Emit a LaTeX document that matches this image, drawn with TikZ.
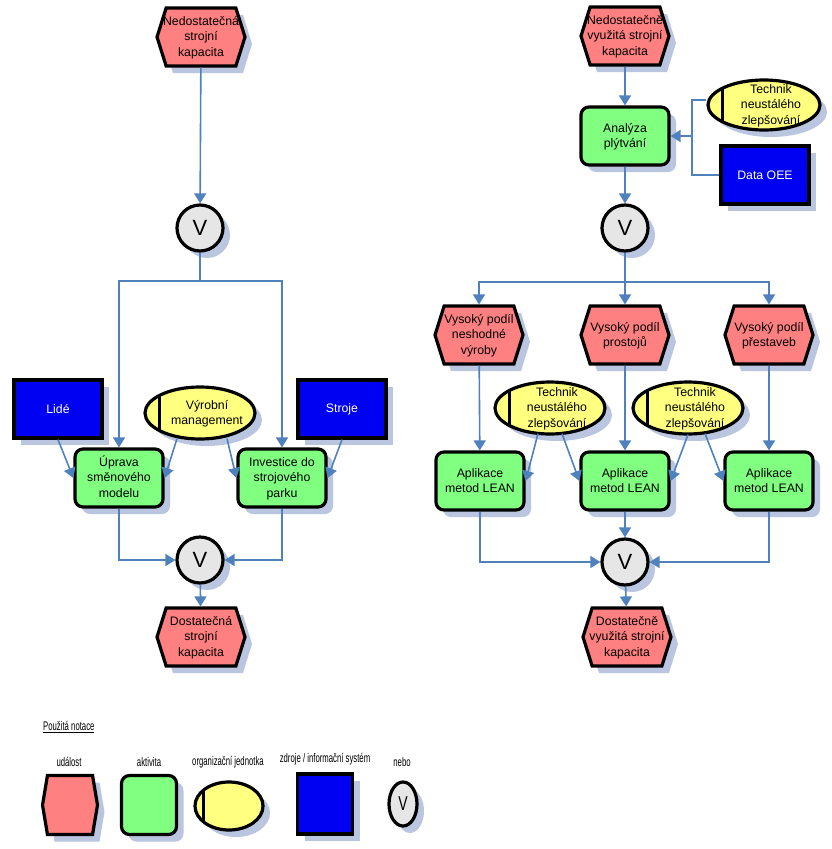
\documentclass[tikz,border=0pt]{standalone}
\usepackage{fontspec}
\usepackage{graphicx}
\setmainfont{Liberation Sans}
\usetikzlibrary{shapes.symbols,shapes.geometric,arrows.meta,calc}
\definecolor{evfill}{HTML}{FF8080}
\definecolor{actfill}{HTML}{80FF80}
\definecolor{orgfill}{HTML}{FFFF80}
\definecolor{resfill}{HTML}{0000F2}
\definecolor{orfill}{HTML}{E6E6E6}
\definecolor{conn}{HTML}{4F81BD}
\definecolor{shadowc}{HTML}{BAC6E0}
\newcommand\ztxt[1]{\makebox[0pt]{\raisebox{-3.8pt}[0pt][0pt]{\begin{tabular}{@{}c@{}}#1\end{tabular}}}}
\tikzset{
 base/.style={draw=black, line width=3.2pt, inner sep=0pt, font=\fontsize{12.3}{15.5}\selectfont},
 event/.style={base, signal, signal to=east and west, signal pointer angle=145, fill=evfill, minimum width=88pt, minimum height=58pt},
 activity/.style={base, rectangle, rounded corners=8pt, fill=actfill, minimum width=88pt, minimum height=58pt},
 org/.style={base, ellipse, fill=orgfill, minimum width=110pt, minimum height=52pt,
   path picture={\draw[line width=3pt] ([xshift=14pt]path picture bounding box.north west) -- ([xshift=14pt]path picture bounding box.south west);}},
 res/.style={base, rectangle, fill=resfill, text=white, minimum width=88pt, minimum height=58pt},
 ornode/.style={base, circle, fill=orfill, minimum size=46pt, font=\fontsize{22}{22}\selectfont},
 arr/.style={draw=conn, line width=1.6pt, -{Triangle[length=10pt,width=12pt]}},
 ln/.style={draw=conn, line width=1.6pt},
 legtext/.style={font=\fontsize{12.5}{14}\selectfont, inner sep=0pt},
 shd/.style={fill=shadowc},
}
\begin{document}
\begin{tikzpicture}[x=1pt,y=-1pt]
\fill[white] (0,0) rectangle (832,849);
\useasboundingbox (0,0) rectangle (832,849);

% ---------- shadows (offset 7 right, 7 down) ----------
\foreach \x/\y/\w/\h in {119/478/88/58, 282/478/88/58, 625/136/88/58, 480/481/88/58, 625/481/88/58, 769/481/88/58, 149/805/55/59}
  \fill[shd, rounded corners=8pt] (\x+7-\w/2,\y+7-\h/2) rectangle (\x+7+\w/2,\y+7+\h/2);
\foreach \x/\y/\w/\h in {58/409/88/58, 342/409/88/58, 765/175/88/58, 325/804/55/60}
  \fill[shd] (\x+7-\w/2,\y+7-\h/2) rectangle (\x+7+\w/2,\y+7+\h/2);
\foreach \x/\y/\a/\b in {200/413/55/26, 764/105/56/25, 550/408/55/26, 688/408/55/26, 229/806/34/24, 200/228/23/23, 200/560/23/23, 625/228/23/23, 625/562/23/23, 403/804/14/22}
  \fill[shd] (\x+7,\y+7) ellipse ({\a} and {\b});
\foreach \x/\y/\w/\h/\i in {201/37/88/58/9, 201/637/88/58/9, 625/36/88/58/9, 627/637/88/58/9, 479/335/88/58/9, 625/335/88/58/9, 769/335/88/58/9, 70/805/55/59/5}
  \fill[shd] (\x+7-\w/2,\y+7) -- (\x+7-\w/2+\i,\y+7-\h/2) -- (\x+7+\w/2-\i,\y+7-\h/2) -- (\x+7+\w/2,\y+7)
     -- (\x+7+\w/2-\i,\y+7+\h/2) -- (\x+7-\w/2+\i,\y+7+\h/2) -- cycle;

% ---------- left process ----------
\node[event] (e1) at (201,37) {\ztxt{Nedostatečná\\strojní\\kapacita}};
\node[ornode] (v1) at (200,228) {V};
\node[activity] (up) at (119,478) {\ztxt{Úprava\\směnového\\modelu}};
\node[activity] (inv) at (282,478) {\ztxt{Investice do\\strojového\\parku}};
\node[res] (lide) at (58,409) {Lidé};
\node[org] (vm) at (200,413) {\hspace{14pt}\ztxt{Výrobní\\management}};
\node[res] (str) at (342,409) {Stroje};
\node[ornode] (v2) at (200,560) {V};
\node[event] (e2) at (201,637) {\ztxt{Dostatečná\\strojní\\kapacita}};
\coordinate (s1) at (200,281);

\draw[arr] (e1) -- (v1);
\draw[ln] (v1) -- (s1);
\draw[arr] (s1) -| (up.north);
\draw[arr] (s1) -| (inv.north);
\draw[arr] (lide.south) -- (up.west);
\draw[arr] ([xshift=-23pt,yshift=2pt]vm.south) -- (up.east);
\draw[arr] ([xshift=27pt,yshift=2pt]vm.south) -- (inv.west);
\draw[arr] (str.south) -- (inv.east);
\draw[arr] (up.south) |- (v2.west);
\draw[arr] (inv.south) |- (v2.east);
\draw[arr] (v2) -- (e2);

% ---------- right process ----------
\node[event] (e3) at (625,36) {\ztxt{Nedostatečně\\využitá strojní\\kapacita}};
\node[activity] (an) at (625,136) {\ztxt{Analýza\\plýtvání}};
\node[org, minimum width=112pt, minimum height=50pt] (t1) at (764,105) {\hspace{14pt}\ztxt{Technik\\neustálého\\zlepšování}};
\node[res] (oee) at (765,175) {Data OEE};
\node[ornode] (v3) at (625,228) {V};
\node[event] (ev1) at (479,335) {\ztxt{Vysoký podíl\\neshodné\\výroby}};
\node[event] (ev2) at (625,335) {\ztxt{Vysoký podíl\\prostojů}};
\node[event] (ev3) at (769,335) {\ztxt{Vysoký podíl\\přestaveb}};
\node[org] (t2) at (550,408) {\hspace{14pt}\ztxt{Technik\\neustálého\\zlepšování}};
\node[org] (t3) at (688,408) {\hspace{14pt}\ztxt{Technik\\neustálého\\zlepšování}};
\node[activity] (l1) at (480,481) {\ztxt{Aplikace\\metod LEAN}};
\node[activity] (l2) at (625,481) {\ztxt{Aplikace\\metod LEAN}};
\node[activity] (l3) at (769,481) {\ztxt{Aplikace\\metod LEAN}};
\node[ornode] (v4) at (625,562) {V};
\node[event] (e4) at (627,637) {\ztxt{Dostatečně\\využitá strojní\\kapacita}};
\coordinate (j) at (692,136);
\coordinate (s2) at (625,282);

\draw[arr] (e3) -- (an);
\draw[ln] ([yshift=5pt]t1.west) -| (j);
\draw[ln] (oee.west) -| (j);
\draw[arr] (j) -- (an.east);
\draw[arr] (an) -- (v3);
\draw[ln] (v3) -- (s2);
\draw[arr] (s2) -| (ev1.north);
\draw[arr] (s2) -- (ev2.north);
\draw[arr] (s2) -| (ev3.north);
\draw[arr] (ev1) -- (l1);
\draw[arr] (ev2) -- (l2);
\draw[arr] (ev3) -- (l3);
\draw[arr] ([xshift=-12pt,yshift=2pt]t2.south) -- (l1.east);
\draw[arr] ([xshift=12pt,yshift=2pt]t2.south) -- (l2.west);
\draw[arr] ([xshift=0pt,yshift=1pt]t3.south) -- (l2.east);
\draw[arr] ([xshift=17pt,yshift=2pt]t3.south) -- (l3.west);
\draw[arr] (l1.south) |- (v4.west);
\draw[arr] (l2) -- (v4);
\draw[arr] (l3.south) |- (v4.east);
\draw[arr] (v4) -- (e4);

% ---------- legend ----------
\node[legtext, anchor=west] (legt) at (43,727) {\scalebox{0.62}[1]{\underline{Použitá notace}}};
\node[legtext] (lab1) at (69,762) {\scalebox{0.62}[1]{událost}};
\node[legtext] (lab2) at (149,762) {\scalebox{0.62}[1]{aktivita}};
\node[legtext] (lab3) at (228,762) {\scalebox{0.62}[1]{organizační jednotka}};
\node[legtext] (lab4) at (325,759) {\scalebox{0.62}[1]{zdroje / informační systém}};
\node[legtext] (lab5) at (402,762) {\scalebox{0.62}[1]{nebo}};
\node[event, signal pointer angle=161, minimum width=55pt, minimum height=59pt] (le1) at (70,805) {};
\node[activity, minimum width=55pt, minimum height=59pt] (le2) at (149,805) {};
\node[org, minimum width=68pt, minimum height=48pt,
  path picture={\draw[line width=3pt] ([xshift=8pt]path picture bounding box.north west) -- ([xshift=8pt]path picture bounding box.south west);}] (le3) at (229,806) {};
\node[res, minimum width=55pt, minimum height=60pt] (le4) at (325,804) {};
\node[base, ellipse, fill=orfill, minimum width=28pt, minimum height=44pt] (le5) at (403,804) {\scalebox{0.7}[1]{\fontsize{20}{20}\selectfont V}};
\end{tikzpicture}
\end{document}
